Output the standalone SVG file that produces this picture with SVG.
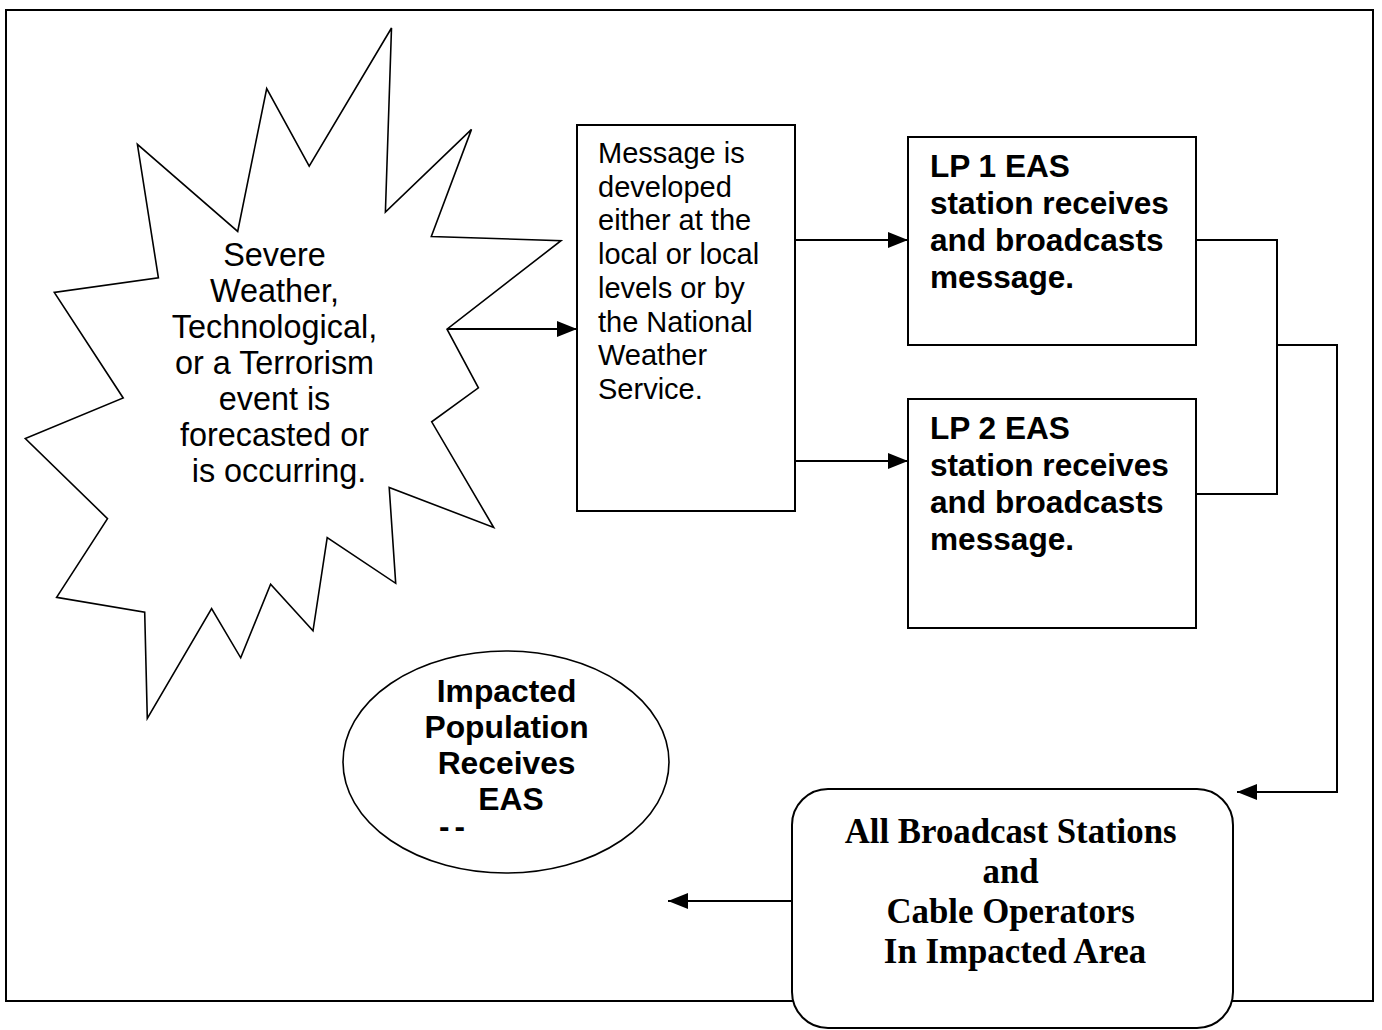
<svg xmlns="http://www.w3.org/2000/svg" width="1382" height="1030" viewBox="0 0 1382 1030">
  <style>
    .frame { fill: none; stroke: #000; stroke-width: 2; }
    .box { fill: #fff; stroke: #000; stroke-width: 2; }
    .shape { fill: #fff; stroke: #000; stroke-width: 1.6; }
    .wire { fill: none; stroke: #000; stroke-width: 2; }
    .sans { font-family: "Liberation Sans", Arial, sans-serif; fill: #000; }
    .serif { font-family: "Liberation Serif", "Times New Roman", serif; fill: #000; font-weight: bold; }
    .bold { font-weight: bold; }
  </style>
  <defs>
    <marker id="arrow" viewBox="0 0 20 16" refX="20" refY="8" markerWidth="20" markerHeight="16" markerUnits="userSpaceOnUse" orient="auto">
      <path d="M0,0 L20,8 L0,16 Z" fill="#000"/>
    </marker>
  </defs>

  <rect width="1382" height="1030" fill="#fff"/>
  <rect class="frame" x="6" y="10" width="1367" height="991"/>

  <!-- triggering event -->
  <g id="event">
    <polygon class="shape" points="391.5,28 385.4,212 471.5,129.4 431.3,236.5 561,240.7 447,329.1 478.4,387.8 431.7,421.8 493.7,527.5 389.2,487.4 395.7,583.3 327.2,537.7 313,630.8 270.6,584.3 240.7,657.8 211.6,608.5 147.3,718.3 144.7,612.2 56.6,597.3 107.5,518.6 25.3,438.5 123.2,398 54.3,292.4 158.4,277.9 137.4,144.3 237.7,231.4 266.7,88.5 309.2,166.2"/>
    <text class="sans" font-size="32.4" text-anchor="middle">
      <tspan x="279" y="266">Severe</tspan>
      <tspan x="279" y="302">Weather,</tspan>
      <tspan x="279" y="338">Technological,</tspan>
      <tspan x="279" y="374">or a Terrorism</tspan>
      <tspan x="279" y="410">event is</tspan>
      <tspan x="279" y="446">forecasted or</tspan>
      <tspan x="279" y="482">is occurring.</tspan>
    </text>
  </g>

  <!-- message origin -->
  <g id="message">
    <rect class="box" x="577" y="125" width="218" height="386"/>
    <text class="sans" font-size="29">
      <tspan x="598" y="163">Message is</tspan>
      <tspan x="598" y="196.7">developed</tspan>
      <tspan x="598" y="230.4">either at the</tspan>
      <tspan x="598" y="264.1">local or local</tspan>
      <tspan x="598" y="297.8">levels or by</tspan>
      <tspan x="598" y="331.5">the National</tspan>
      <tspan x="598" y="365.2">Weather</tspan>
      <tspan x="598" y="398.9">Service.</tspan>
    </text>
  </g>

  <!-- primary stations -->
  <g id="lp1">
    <rect class="box" x="908" y="137" width="288" height="208"/>
    <text class="sans bold" font-size="31.6">
      <tspan x="930" y="177">LP 1 EAS</tspan>
      <tspan x="930" y="214">station receives</tspan>
      <tspan x="930" y="251">and broadcasts</tspan>
      <tspan x="930" y="288">message.</tspan>
    </text>
  </g>
  <g id="lp2">
    <rect class="box" x="908" y="399" width="288" height="229"/>
    <text class="sans bold" font-size="31.6">
      <tspan x="930" y="439">LP 2 EAS</tspan>
      <tspan x="930" y="476">station receives</tspan>
      <tspan x="930" y="513">and broadcasts</tspan>
      <tspan x="930" y="550">message.</tspan>
    </text>
  </g>

  <!-- audience -->
  <g id="population">
    <ellipse class="shape" cx="506" cy="762" rx="163" ry="111"/>
    <text class="sans bold" font-size="31.8" text-anchor="middle">
      <tspan x="511" y="702">Impacted</tspan>
      <tspan x="511" y="738">Population</tspan>
      <tspan x="511" y="774">Receives</tspan>
      <tspan x="511" y="810">EAS</tspan>
    </text>
    <text class="sans bold" font-size="31.5" x="439" y="837" letter-spacing="5">--</text>
  </g>

  <!-- all outlets -->
  <g id="outlets">
    <rect class="box" x="792" y="789" width="441" height="239" rx="36" ry="36"/>
    <text class="serif" font-size="34.8" text-anchor="middle">
      <tspan x="1015" y="843">All Broadcast Stations</tspan>
      <tspan x="1015" y="883">and</tspan>
      <tspan x="1015" y="923">Cable Operators</tspan>
      <tspan x="1015" y="963">In Impacted Area</tspan>
    </text>
  </g>

  <g id="connectors">
    <line class="wire" x1="447" y1="329" x2="577" y2="329" marker-end="url(#arrow)"/>
    <line class="wire" x1="795" y1="240" x2="908" y2="240" marker-end="url(#arrow)"/>
    <line class="wire" x1="795" y1="461" x2="908" y2="461" marker-end="url(#arrow)"/>
    <polyline class="wire" points="1196,240 1277,240 1277,494 1196,494"/>
    <polyline class="wire" points="1277,345 1337,345 1337,792 1237,792" marker-end="url(#arrow)"/>
    <line class="wire" x1="792" y1="901" x2="668" y2="901" marker-end="url(#arrow)"/>
  </g>
</svg>
